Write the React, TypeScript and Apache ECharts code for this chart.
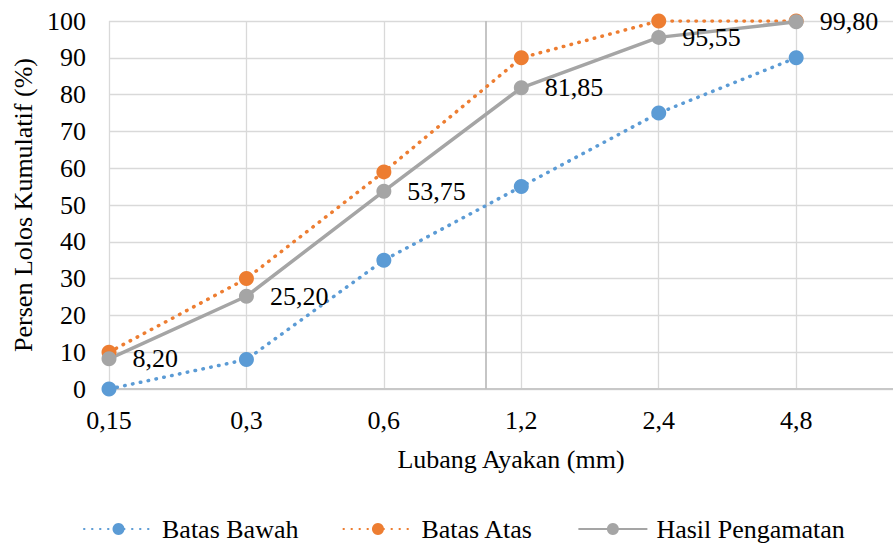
import React, { useEffect, useRef } from "react";
import * as echarts from "echarts";

const categories = ["0,15", "0,3", "0,6", "1,2", "2,4", "4,8"];
const batasBawah = [0, 8, 35, 55, 75, 90];
const batasAtas = [10, 30, 59, 90, 100, 100];
const hasilPengamatan = [8.2, 25.2, 53.75, 81.85, 95.55, 99.8];
const yTicks = { min: 0, max: 100, interval: 10 };
const extraLineX = 2.744;

const FONT = "Liberation Serif, serif";

const toPairs = (vals: number[]) => vals.map((v, i) => [i, v]);

export default function App() {
  const ref = useRef<HTMLDivElement>(null);
  useEffect(() => {
    if (!ref.current) return;
    const chart = echarts.init(ref.current, null, { renderer: "svg" });
    const dotted = { type: [0.5, 7.5] as number[], cap: "round" as const, width: 3.5 };
    chart.setOption({
      animation: false,
      backgroundColor: "#ffffff",
      textStyle: { fontFamily: FONT, color: "#000" },
      grid: { left: 109, right: -20, top: 21, bottom: 156, outerBoundsMode: "none", containLabel: false },
      xAxis: {
        type: "value",
        min: 0,
        max: 5.85,
        interval: 1,
        name: "Lubang Ayakan (mm)",
        nameLocation: "middle",
        nameGap: 57,
        nameTextStyle: { fontFamily: FONT, fontSize: 26, color: "#000" },
        axisLine: { show: true, lineStyle: { color: "#c8c8c8", width: 2 } },
        axisTick: { show: false },
        axisLabel: {
          fontFamily: FONT,
          fontSize: 26,
          color: "#000",
          margin: 18,
          showMaxLabel: false,
          formatter: (v: number) => (Number.isInteger(v) && categories[v] !== undefined ? categories[v] : ""),
        },
        splitLine: { show: true, lineStyle: { color: "#d9d9d9", width: 1.3 } },
      },
      yAxis: {
        type: "value",
        min: yTicks.min,
        max: yTicks.max,
        interval: yTicks.interval,
        name: "Persen Lolos Kumulatif (%)",
        nameLocation: "middle",
        nameGap: 72,
        nameTextStyle: { fontFamily: FONT, fontSize: 26, color: "#000" },
        axisLine: { show: false },
        axisTick: { show: false },
        axisLabel: { fontFamily: FONT, fontSize: 26, color: "#000", margin: 23 },
        splitLine: { show: true, lineStyle: { color: "#d9d9d9", width: 1.3 } },
      },
      legend: {
        left: 78,
        top: 511,
        itemWidth: 69,
        itemHeight: 15,
        itemGap: 44,
        textStyle: { fontFamily: FONT, fontSize: 26, color: "#000", padding: [0, 0, 0, 4] },
        data: ["Batas Bawah", "Batas Atas", "Hasil Pengamatan"],
      },
      series: [
        {
          name: "Batas Bawah",
          type: "line",
          data: toPairs(batasBawah),
          symbol: "circle",
          symbolSize: 15,
          color: "#5B9BD5",
          itemStyle: { color: "#5B9BD5" },
          lineStyle: { color: "#5B9BD5", ...dotted },
          markLine: {
            silent: true,
            symbol: ["none", "none"],
            label: { show: false },
            lineStyle: { color: "#bfbfbf", width: 1.8, type: "solid" },
            data: [{ xAxis: extraLineX }],
            z: 1,
          },
        },
        {
          name: "Batas Atas",
          type: "line",
          data: toPairs(batasAtas),
          symbol: "circle",
          symbolSize: 15,
          color: "#ED7D31",
          itemStyle: { color: "#ED7D31" },
          lineStyle: { color: "#ED7D31", ...dotted },
        },
        {
          name: "Hasil Pengamatan",
          type: "line",
          data: toPairs(hasilPengamatan),
          symbol: "circle",
          symbolSize: 15,
          color: "#A5A5A5",
          itemStyle: { color: "#A5A5A5" },
          lineStyle: { color: "#A5A5A5", width: 3.5, type: "solid" },
          label: {
            show: true,
            position: "right",
            distance: 16,
            fontFamily: FONT,
            fontSize: 26,
            color: "#000",
            formatter: (p: any) => p.value[1].toFixed(2).replace(".", ","),
          },
        },
      ],
    });
    return () => chart.dispose();
  }, []);
  return (
    <div
      ref={ref}
      style={{ position: "fixed", left: 0, top: 0, width: 893, height: 545, background: "#fff" }}
    />
  );
}
